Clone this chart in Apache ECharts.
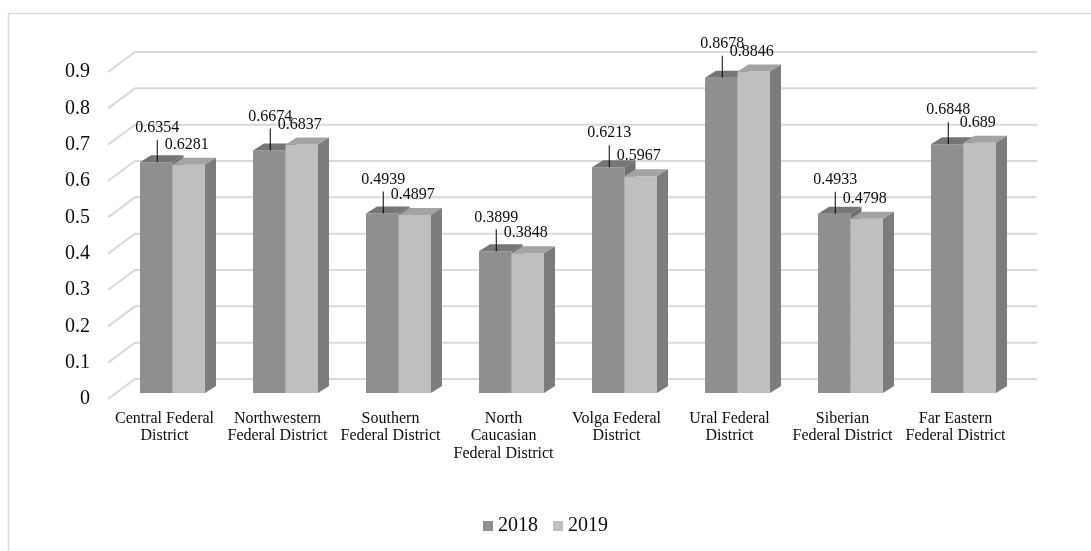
<!DOCTYPE html>
<html>
<head>
<meta charset="utf-8">
<script src="https://cdn.jsdelivr.net/npm/echarts@6/dist/echarts.min.js"></script>
<style>
  html, body { margin: 0; padding: 0; background: #ffffff; }
  #chart { width: 1091px; height: 551px; }
</style>
</head>
<body>
<div id="chart"></div>
<script>
// Federal districts (line breaks as shown under the axis)
const categories = [
  'Central Federal\nDistrict',
  'Northwestern\nFederal District',
  'Southern\nFederal District',
  'North\nCaucasian\nFederal District',
  'Volga Federal\nDistrict',
  'Ural Federal\nDistrict',
  'Siberian\nFederal District',
  'Far Eastern\nFederal District'
];
const seriesNames = ['2018', '2019'];
const values2018 = [0.6354, 0.6674, 0.4939, 0.3899, 0.6213, 0.8678, 0.4933, 0.6848];
const values2019 = [0.6281, 0.6837, 0.4897, 0.3848, 0.5967, 0.8846, 0.4798, 0.689];
const yTicks = [0, 0.1, 0.2, 0.3, 0.4, 0.5, 0.6, 0.7, 0.8, 0.9];

// Pseudo-3D geometry (pixels)
const BAR_SHIFT = { x: 8, y: -6 };    // bar plane relative to the front plane
const BAR_DEPTH = { x: 11, y: -7 };   // depth of each column
const WALL_SHIFT = { x: 27, y: -20 }; // back wall relative to the front plane
const BAR_FRACTION = 0.2876;          // one column width as a share of the category band

const SERIF = '"Liberation Serif", "Times New Roman", serif';
const colors = {
  '2018': { front: '#8f8f8f', top: '#767676', side: '#6f6f6f' },
  '2019': { front: '#bfbfbf', top: '#a3a3a3', side: '#7c7c7c' }
};

const chart = echarts.init(document.getElementById('chart'));

function gridLineItem(params, api) {
  const cs = params.coordSys;
  const y = api.coord([0, api.value(1)])[1];
  const xl = cs.x, xr = cs.x + cs.width;
  return {
    type: 'polyline',
    shape: {
      points: [
        [xl, y],
        [xl + WALL_SHIFT.x, y + WALL_SHIFT.y],
        [xr + WALL_SHIFT.x - 2, y + WALL_SHIFT.y]
      ]
    },
    style: { stroke: '#d9d9d9', lineWidth: 2, fill: null },
    silent: true
  };
}

function barRenderer(seriesIndex) {
  const name = seriesNames[seriesIndex];
  const c = colors[name];
  return function (params, api) {
    const cat = api.value(0);
    const v = api.value(1);
    const base = api.coord([cat, 0]);
    const top = api.coord([cat, v]);
    const band = api.size([1, 0])[0];
    const w = band * BAR_FRACTION;
    const x0 = base[0] + BAR_SHIFT.x + (seriesIndex === 0 ? -w : 0);
    const yb = base[1] + BAR_SHIFT.y;
    const yt = top[1] + BAR_SHIFT.y;
    const dx = BAR_DEPTH.x, dy = BAR_DEPTH.y;
    const cx = x0 + w / 2;
    const backTop = yt + dy;

    const children = [
      {
        type: 'rect',
        shape: { x: x0, y: yt, width: w, height: yb - yt },
        style: { fill: c.front }
      },
      {
        type: 'polygon',
        shape: { points: [[x0, yt], [x0 + w, yt], [x0 + w + dx, yt + dy], [x0 + dx, yt + dy]] },
        style: { fill: c.top }
      },
      {
        type: 'polygon',
        shape: { points: [[x0 + w, yt], [x0 + w + dx, yt + dy], [x0 + w + dx, yb + dy], [x0 + w, yb]] },
        style: { fill: c.side }
      }
    ];

    if (seriesIndex === 0) {
      // 2018 labels sit higher, tied to the column by a leader line
      const ly = backTop - 27;
      children.push({
        type: 'line',
        shape: { x1: cx + 1, y1: ly + 12, x2: cx + 1, y2: yt },
        style: { stroke: '#000000', lineWidth: 1 }
      });
      children.push({
        type: 'text',
        style: {
          text: String(v), x: cx + 1, y: ly,
          align: 'center', verticalAlign: 'middle',
          fontSize: 16, fontFamily: SERIF, fill: '#0d0d0d'
        }
      });
    } else {
      children.push({
        type: 'text',
        style: {
          text: String(v), x: cx - 2, y: backTop - 13,
          align: 'center', verticalAlign: 'middle',
          fontSize: 16, fontFamily: SERIF, fill: '#0d0d0d'
        }
      });
    }
    return { type: 'group', children: children };
  };
}

const option = {
  backgroundColor: '#ffffff',
  animation: false,
  graphic: [{
    type: 'rect',
    shape: { x: 8.5, y: 13.5, width: 1200, height: 700 },
    style: { fill: null, stroke: '#d9d9d9', lineWidth: 1.5 },
    silent: true,
    z: -10
  }],
  grid: { left: 108, right: 79, top: 72, bottom: 152, containLabel: false },
  legend: {
    data: seriesNames,
    bottom: 10,
    left: 'center',
    icon: 'rect',
    itemWidth: 10,
    itemHeight: 10,
    itemGap: 15,
    textStyle: { fontSize: 20, fontFamily: SERIF, color: '#0d0d0d', padding: [0, 0, 0, 0] }
  },
  xAxis: {
    type: 'category',
    data: categories,
    axisLine: { show: false },
    axisTick: { show: false },
    axisLabel: {
      interval: 0,
      margin: 11,
      fontSize: 16,
      lineHeight: 17.5,
      fontFamily: SERIF,
      color: '#0d0d0d'
    }
  },
  yAxis: {
    type: 'value',
    min: 0,
    max: 0.9,
    interval: 0.1,
    axisLine: { show: false },
    axisTick: { show: false },
    splitLine: { show: false },
    axisLabel: {
      margin: 18,
      fontSize: 20,
      fontFamily: SERIF,
      color: '#0d0d0d',
      formatter: function (val) { return String(Math.round(val * 10) / 10); }
    }
  },
  series: [
    {
      type: 'custom',
      name: 'grid',
      data: yTicks.map(function (t) { return [0, t]; }),
      encode: { x: 0, y: 1 },
      renderItem: gridLineItem,
      clip: false,
      silent: true,
      z: 1
    },
    {
      type: 'custom',
      name: seriesNames[0],
      data: values2018.map(function (v, i) { return [i, v]; }),
      encode: { x: 0, y: 1 },
      itemStyle: { color: colors['2018'].front },
      renderItem: barRenderer(0),
      clip: false,
      z: 2
    },
    {
      type: 'custom',
      name: seriesNames[1],
      data: values2019.map(function (v, i) { return [i, v]; }),
      encode: { x: 0, y: 1 },
      itemStyle: { color: colors['2019'].front },
      renderItem: barRenderer(1),
      clip: false,
      z: 3
    }
  ]
};

chart.setOption(option);
</script>
</body>
</html>
